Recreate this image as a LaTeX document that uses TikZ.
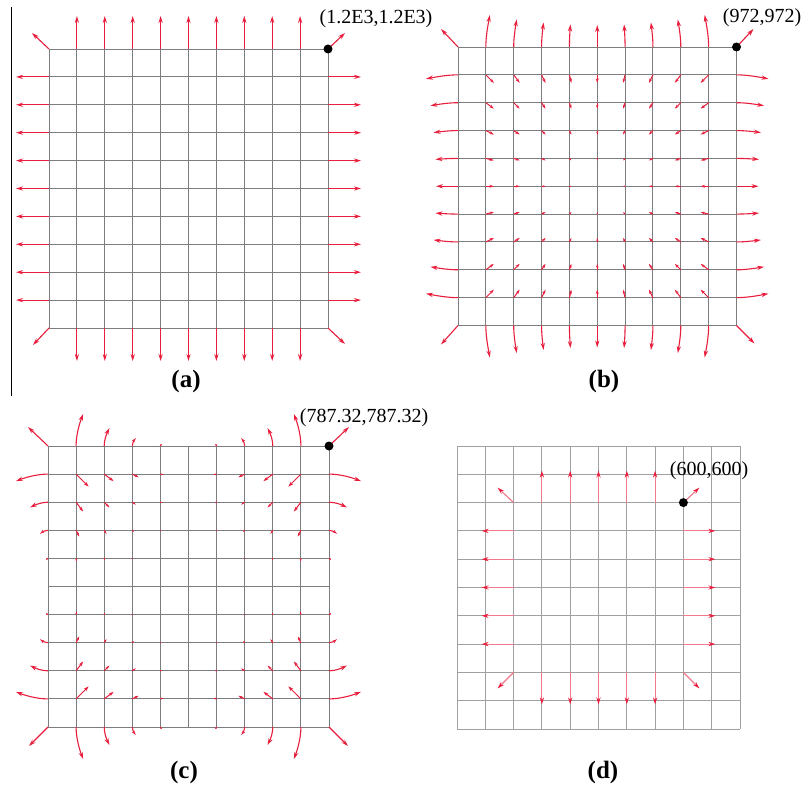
\documentclass[tikz,border=0pt]{standalone}
\usepackage{fontspec}
\setmainfont{Liberation Serif}
\usetikzlibrary{arrows.meta}
\definecolor{arrred}{RGB}{232,30,60}
\definecolor{arrpink}{RGB}{242,120,140}
\definecolor{gridgray}{RGB}{125,125,125}
\definecolor{gridlight}{RGB}{160,160,160}
\tikzset{
  gridline/.style={draw=gridgray, line width=0.95pt},
  gridlineD/.style={draw=gridlight, line width=0.85pt},
  vec/.style={draw=arrred, line width=1.1pt, -{Stealth[length=7pt,width=4.2pt]}},
  svec/.style 2 args={draw=arrred, line width=1.1pt, -{Stealth[length=#1pt,width=#2pt]}},
  dvec/.style={draw=arrpink, line width=1.1pt, -{Stealth[length=7pt,width=4.2pt,color=arrred]}},
  lbltxt/.style={font=\fontsize{20}{20}\selectfont, inner sep=0pt},
  captxt/.style={font=\fontsize{25}{25}\selectfont\bfseries, inner sep=0pt},
  blackdot/.style={fill=black},
}
\begin{document}
\begin{tikzpicture}[x=1pt,y=-1pt]
\useasboundingbox (0,0) rectangle (809,789);
\fill[white] (0,0) rectangle (809,789);

% left rule
\draw[line width=1.2pt] (11.5,7) -- (11.5,396);

% ---------------- panel (a) ----------------
\begin{scope}[shift={(49,49)}]
  \foreach \k in {0,...,10} {
    \draw[gridline] (\k*27.9,0) -- (\k*27.9,279);
    \draw[gridline] (0,\k*27.9) -- (279,\k*27.9);
  }
  \foreach \k in {1,...,9} {
    \draw[vec] (\k*27.9,0) -- ++(0,-33);
    \draw[vec] (\k*27.9,279) -- ++(0,33);
    \draw[vec] (0,\k*27.9) -- ++(-33,0);
    \draw[vec] (279,\k*27.9) -- ++(33,0);
  }
  \draw[vec] (0,0) -- ++(-17,-16);
  \draw[vec] (279,0) -- ++(17,-16);
  \draw[vec] (0,279) -- ++(-16,17);
  \draw[vec] (279,279) -- ++(17,16);
  \fill[blackdot] (279,0) circle (4.5);
\end{scope}
\node[lbltxt] (la) at (376,19) {(1.2E3,1.2E3)};
\node[captxt] (ca) at (186,381) {(a)};

% ---------------- panel (b) ----------------
\begin{scope}[shift={(458,47)}]
  \def\s{27.85}
  \def\G{278.5}
  \foreach \k in {0,...,10} {
    \draw[gridline] (\k*\s,0) -- (\k*\s,\G);
    \draw[gridline] (0,\k*\s) -- (\G,\k*\s);
  }
  \foreach \i in {1,...,9} {
    \foreach \j in {1,...,9} {
      \pgfmathsetmacro\uu{(\i-5)/4}
      \pgfmathsetmacro\vv{(\j-5)/4}
      \pgfmathsetmacro\ddx{-8*\uu}
      \pgfmathsetmacro\ddy{-8*\vv}
      \pgfmathsetmacro\vl{veclen(\ddx,\ddy)}
      \pgfmathsetmacro\hl{min(4.5,1.2+0.45*\vl)}
      \pgfmathsetmacro\hw{0.65*\hl}
      \ifdim \vl pt>0.8pt
        \draw[svec={\hl}{\hw}, line width=1pt] (\i*\s,\j*\s) -- ++(\ddx,\ddy);
      \fi
    }
  }
  \foreach \i in {1,...,9} {
    \pgfmathsetmacro\uu{(\i-5)/4}
    \pgfmathsetmacro\L{22+10*\uu*\uu}
    \pgfmathsetmacro\ddx{-4*\uu}
    \pgfmathsetmacro\hx{-2*\uu}
    \pgfmathsetmacro\xo{\i*\s}
    \draw[vec] (\xo,0) .. controls (\xo,-\L/3) and (\xo+\hx,-2*\L/3) .. (\xo+\ddx,-\L);
    \draw[vec] (\xo,\G) .. controls (\xo,\G+\L/3) and (\xo+\hx,\G+2*\L/3) .. (\xo+\ddx,\G+\L);
    \draw[vec] (0,\xo) .. controls (-\L/3,\xo) and (-2*\L/3,\xo+\hx) .. (-\L,\xo+\ddx);
    \draw[vec] (\G,\xo) .. controls (\G+\L/3,\xo) and (\G+2*\L/3,\xo+\hx) .. (\G+\L,\xo+\ddx);
  }
  \draw[vec] (0,0) -- ++(-17,-18);
  \draw[vec] (\G,0) -- ++(17,-18);
  \draw[vec] (0,\G) -- ++(-17,19);
  \draw[vec] (\G,\G) -- ++(18,18);
  \fill[blackdot] (\G,0) circle (4.5);
\end{scope}
\node[lbltxt] (lb) at (762,18) {(972,972)};
\node[captxt] (cb) at (604,381) {(b)};

% ---------------- panel (c) ----------------
\begin{scope}[shift={(48,446)}]
  \def\s{28.1}
  \def\G{281}
  \foreach \k in {0,...,10} {
    \draw[gridline] (\k*\s,0) -- (\k*\s,\G);
    \draw[gridline] (0,\k*\s) -- (\G,\k*\s);
  }
  \foreach \i in {1,...,9} {
    \foreach \j in {1,...,9} {
      \pgfmathsetmacro\uu{(\i-5)/4}
      \pgfmathsetmacro\vv{(\j-5)/4}
      \pgfmathsetmacro\ddx{-12.5*\uu*\vv*\vv}
      \pgfmathsetmacro\ddy{-12.5*\vv*\uu*\uu}
      \pgfmathsetmacro\vl{veclen(\ddx,\ddy)}
      \pgfmathsetmacro\hl{min(5,1.2+0.4*\vl)}
      \pgfmathsetmacro\hw{0.65*\hl}
      \ifdim \vl pt>0.8pt
        \draw[svec={\hl}{\hw}, line width=1pt] (\i*\s,\j*\s) -- ++(\ddx,\ddy);
      \fi
    }
  }
  \foreach \i in {1,2,3,4,6,7,8,9} {
    \pgfmathsetmacro\uu{(\i-5)/4}
    \pgfmathsetmacro\L{32*\uu*\uu}
    \pgfmathsetmacro\ddx{-7*\uu}
    \pgfmathsetmacro\hx{-3*\uu}
    \pgfmathsetmacro\hl{min(7,1.5+0.4*\L)}
    \pgfmathsetmacro\hw{0.6*\hl}
    \pgfmathsetmacro\xo{\i*\s}
    \draw[svec={\hl}{\hw}] (\xo,0) .. controls (\xo,-\L/3) and (\xo+\hx,-2*\L/3) .. (\xo+\ddx,-\L);
    \draw[svec={\hl}{\hw}] (\xo,\G) .. controls (\xo,\G+\L/3) and (\xo+\hx,\G+2*\L/3) .. (\xo+\ddx,\G+\L);
    \draw[svec={\hl}{\hw}] (0,\xo) .. controls (-\L/3,\xo) and (-2*\L/3,\xo+\hx) .. (-\L,\xo+\ddx);
    \draw[svec={\hl}{\hw}] (\G,\xo) .. controls (\G+\L/3,\xo) and (\G+2*\L/3,\xo+\hx) .. (\G+\L,\xo+\ddx);
  }
  \draw[vec] (0,0) -- ++(-20,-19);
  \draw[vec] (\G,0) -- ++(20,-19);
  \draw[vec] (0,\G) -- ++(-19,19);
  \draw[vec] (\G,\G) -- ++(19,19);
  \fill[blackdot] (\G,0) circle (4.5);
\end{scope}
\node[lbltxt] (lc) at (364,418) {(787.32,787.32)};
\node[captxt] (cc) at (184,772) {(c)};

% ---------------- panel (d) ----------------
\begin{scope}[shift={(457,446)}]
  \def\s{28.3}
  \def\G{283}
  \foreach \k in {0,...,10} {
    \draw[gridlineD] (\k*\s,0) -- (\k*\s,\G);
    \draw[gridlineD] (0,\k*\s) -- (\G,\k*\s);
  }
  \foreach \k in {3,...,7} {
    \draw[dvec] (\k*\s,2*\s) -- ++(0,-32);
    \draw[dvec] (\k*\s,8*\s) -- ++(0,32);
    \draw[dvec] (2*\s,\k*\s) -- ++(-32,0);
    \draw[dvec] (8*\s,\k*\s) -- ++(32,0);
  }
  \draw[dvec] (2*\s,2*\s) -- ++(-16,-15);
  \draw[dvec] (8*\s,2*\s) -- ++(16,-15);
  \draw[dvec] (2*\s,8*\s) -- ++(-16,16);
  \draw[dvec] (8*\s,8*\s) -- ++(16,16);
  \fill[blackdot] (8*\s,2*\s) circle (4.5);
\end{scope}
\node[lbltxt] (ld) at (709,471) {(600,600)};
\node[captxt] (cd) at (603,772) {(d)};
\end{tikzpicture}
\end{document}
